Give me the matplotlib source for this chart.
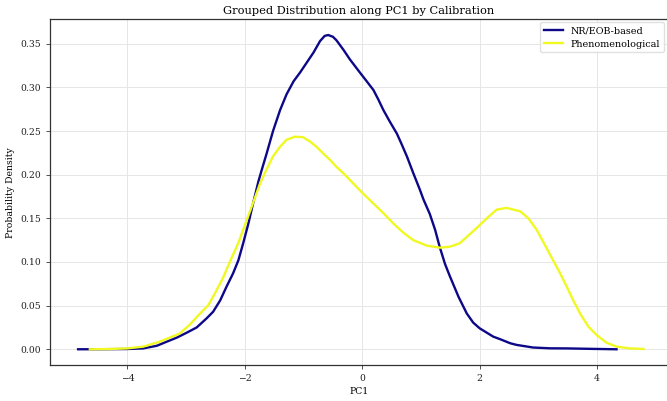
import matplotlib
matplotlib.use("Agg")
import matplotlib.pyplot as plt

# KDE curves along PC1, one per calibration group
nr_x = [-4.84, -4.40, -4.01, -3.73, -3.50, -3.33, -3.16, -2.99, -2.82, -2.65,
        -2.54, -2.42, -2.31, -2.20, -2.11, -2.03, -1.94, -1.86, -1.77, -1.71,
        -1.63, -1.52, -1.40, -1.29, -1.17, -1.06, -0.95, -0.83, -0.72, -0.64,
        -0.58, -0.50, -0.44, -0.32, -0.21, -0.04, 0.07, 0.19, 0.27, 0.36,
        0.47, 0.59, 0.67, 0.76, 0.87, 0.98, 1.04, 1.15, 1.24, 1.32,
        1.41, 1.49, 1.64, 1.78, 1.89, 2.00, 2.23, 2.35, 2.52, 2.63,
        2.91, 3.20, 3.48, 3.88, 4.33]
nr_y = [0.0, 0.0001, 0.0003, 0.001, 0.004, 0.0087, 0.0133, 0.019, 0.025, 0.0355,
        0.043, 0.056, 0.072, 0.087, 0.102, 0.121, 0.144, 0.167, 0.192, 0.206,
        0.224, 0.250, 0.274, 0.292, 0.307, 0.317, 0.328, 0.340, 0.353, 0.359,
        0.360, 0.358, 0.354, 0.343, 0.332, 0.317, 0.3075, 0.297, 0.2866, 0.274,
        0.2607, 0.247, 0.235, 0.221, 0.2016, 0.183, 0.172, 0.155, 0.137, 0.117,
        0.0976, 0.084, 0.060, 0.041, 0.0305, 0.024, 0.0145, 0.0115, 0.0069, 0.005,
        0.002, 0.0011, 0.001, 0.0005, 0.0]

ph_x = [-4.64, -4.30, -4.00, -3.73, -3.45, -3.28, -3.11, -2.94, -2.79, -2.62,
        -2.51, -2.37, -2.25, -2.11, -2.00, -1.88, -1.74, -1.63, -1.52, -1.40,
        -1.29, -1.15, -1.01, -0.89, -0.78, -0.66, -0.55, -0.44, -0.32, -0.21,
        -0.01, 0.19, 0.36, 0.53, 0.70, 0.87, 1.10, 1.32, 1.49, 1.66,
        1.95, 2.12, 2.29, 2.46, 2.69, 2.83, 2.97, 3.11, 3.25, 3.37,
        3.48, 3.59, 3.71, 3.85, 3.99, 4.16, 4.33, 4.56, 4.79]
ph_y = [0.0, 0.0003, 0.001, 0.003, 0.0087, 0.0133, 0.018, 0.028, 0.039, 0.0507,
        0.064, 0.082, 0.101, 0.122, 0.142, 0.164, 0.190, 0.206, 0.221, 0.232,
        0.240, 0.2435, 0.243, 0.238, 0.232, 0.224, 0.217, 0.209, 0.2016, 0.194,
        0.180, 0.167, 0.156, 0.144, 0.1336, 0.125, 0.1187, 0.1164, 0.1175, 0.1214,
        0.139, 0.150, 0.160, 0.162, 0.158, 0.150, 0.137, 0.1195, 0.102, 0.087,
        0.072, 0.0565, 0.041, 0.026, 0.0164, 0.0076, 0.003, 0.001, 0.0003]

labels = ["NR/EOB-based", "Phenomenological"]
colors = ["#0d0887", "#f0f921"]

plt.rcParams["font.family"] = "DejaVu Serif"
plt.rcParams["font.size"] = 6.7

fig = plt.figure(figsize=(6.67, 4.01), dpi=100)
ax = fig.add_axes([0.0757, 0.0898, 0.9243, 0.8616])

ax.plot(nr_x, nr_y, color=colors[0], lw=1.7, label=labels[0],
        solid_joinstyle="round")
ax.plot(ph_x, ph_y, color=colors[1], lw=1.7, label=labels[1],
        solid_joinstyle="round")

ax.set_xlim(-5.31, 5.19)
ax.set_ylim(-0.018, 0.3778)
ax.set_xticks([-4, -2, 0, 2, 4])
ax.set_xticklabels(["\u22124", "\u22122", "0", "2", "4"])
ax.set_yticks([0.0, 0.05, 0.10, 0.15, 0.20, 0.25, 0.30, 0.35])
ax.set_yticklabels([f"{v:.2f}" for v in ax.get_yticks()])

ax.grid(True, color="#e6e6e6", lw=0.7)
ax.set_axisbelow(True)
for side in ["left", "bottom", "top"]:
    ax.spines[side].set_color("#333333")
    ax.spines[side].set_linewidth(0.9)
ax.spines["right"].set_visible(False)
ax.tick_params(colors="#333333", length=3, width=0.6, labelcolor="#222222")

ax.set_title("Grouped Distribution along PC1 by Calibration", fontsize=8.2, pad=4)
ax.set_xlabel("PC1", labelpad=3)
ax.set_ylabel("Probability Density", labelpad=4)
ax.legend(loc="upper right", fontsize=6.9, frameon=True, framealpha=0.9,
          edgecolor="#dddddd", borderaxespad=0.3, labelspacing=0.45)

fig.savefig("out.png", dpi=100)
